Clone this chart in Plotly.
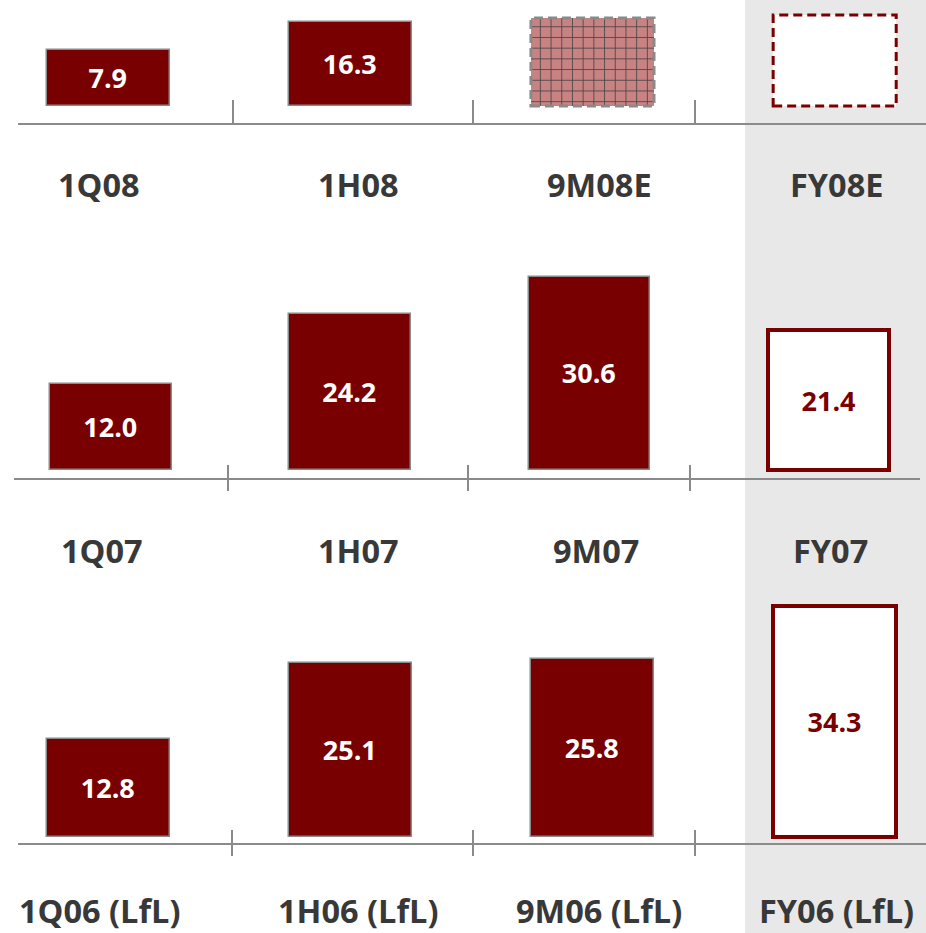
import plotly.graph_objects as go

W, H = 926, 933

# ---- data -------------------------------------------------------------
cats_2008 = ["1Q08", "1H08", "9M08E", "FY08E"]
vals_2008 = [7.9, 16.3, 17.5, 18.4]          # last two are estimates (no label)
text_2008 = ["7.9", "16.3", "", ""]

cats_2007 = ["1Q07", "1H07", "9M07", "FY07"]
vals_2007 = [12.0, 24.2, 30.6, 21.4]
text_2007 = ["12.0", "24.2", "30.6", "21.4"]

cats_2006 = ["1Q06 (LfL)", "1H06 (LfL)", "9M06 (LfL)", "FY06 (LfL)"]
vals_2006 = [12.8, 25.1, 25.8, 34.3]
text_2006 = ["12.8", "25.1", "25.8", "34.3"]

# ---- styling ----------------------------------------------------------
DARK_RED = "#780000"
OUTLINE_RED = "#7a0000"
GREY_LINE = "#8a8a8a"
LABEL_GREY = "#383838"
BAND = "#e8e8e8"
FONT = "Open Sans"
BAR_W = 0.508


def py(p):
    return 1 - p / H


def px(p):
    return p / W


# per-row layout: pixel domain, y range, bar floor, x range, baseline, dividers
rows = [
    dict(cats=cats_2008, vals=vals_2008, text=text_2008, dom=(124, 0),
         yr=[-14.3, 22.9], base=-8.9, xr=[-0.446, 3.377],
         line=(18, 926, 124), ticks=[233, 473, 695], tick_y=(100, 124),
         label_y=184, kinds=["solid", "solid", "hatched", "dashed"]),
    dict(cats=cats_2007, vals=vals_2007, text=text_2007, dom=(479, 230),
         yr=[-4.57, 38.81], base=-3.0, xr=[-0.464, 3.407],
         line=(14, 920, 479), ticks=[228, 468, 690], tick_y=(465, 491),
         label_y=550, kinds=["solid", "solid", "solid", "outline"]),
    dict(cats=cats_2006, vals=vals_2006, text=text_2006, dom=(844, 590),
         yr=[-4.09, 36.88], base=-3.0, xr=[-0.446, 3.377],
         line=(18, 926, 844), ticks=[232, 473, 695], tick_y=(830, 856),
         label_y=910, kinds=["solid", "solid", "solid", "outline"]),
]
label_xshift = [-9, 8, 7, 2]

fig = go.Figure()
shapes = [
    # shaded full-year column
    dict(type="rect", xref="paper", yref="paper", x0=px(745), x1=1, y0=0, y1=1,
         fillcolor=BAND, line=dict(width=0), layer="below"),
]
annotations = []

for r, row in enumerate(rows, start=1):
    xa = "x" if r == 1 else f"x{r}"
    ya = "y" if r == 1 else f"y{r}"
    kinds = row["kinds"]

    fill, lcol, lwid, pat, tcol = [], [], [], [], []
    for k in kinds:
        if k == "solid":
            fill.append(DARK_RED); lcol.append(GREY_LINE); lwid.append(1.5)
            pat.append(""); tcol.append("white")
        elif k == "outline":
            fill.append("white"); lcol.append(OUTLINE_RED); lwid.append(4)
            pat.append(""); tcol.append(OUTLINE_RED)
        elif k == "hatched":
            fill.append("#c88282"); lcol.append(GREY_LINE); lwid.append(0)
            pat.append("+"); tcol.append("white")
        else:  # dashed estimate
            fill.append("white"); lcol.append(OUTLINE_RED); lwid.append(0)
            pat.append(""); tcol.append(OUTLINE_RED)

    fig.add_trace(go.Bar(
        x=row["cats"], y=[v - row["base"] for v in row["vals"]], base=row["base"],
        width=BAR_W, xaxis=xa, yaxis=ya,
        marker=dict(color=fill, line=dict(color=lcol, width=lwid),
                    pattern=dict(shape=pat, fgcolor="#800000", bgcolor="#c88282",
                                 size=10.7, solidity=0.15, fgopacity=1)),
        text=row["text"], textposition="inside", insidetextanchor="middle",
        textangle=0,
        textfont=dict(family=FONT, size=27, color=tcol, weight=700),
        hoverinfo="skip", showlegend=False, cliponaxis=False,
    ))

    # dashed outlines for estimated periods
    for i, k in enumerate(kinds):
        if k in ("hatched", "dashed"):
            shapes.append(dict(
                type="rect", xref=xa, yref=ya,
                x0=i - BAR_W / 2, x1=i + BAR_W / 2, y0=row["base"], y1=row["vals"][i],
                line=dict(color=GREY_LINE if k == "hatched" else OUTLINE_RED,
                          width=3, dash="9px,5px"),
                fillcolor="rgba(0,0,0,0)", layer="above"))

    # baseline and separators
    x0, x1, yl = row["line"]
    shapes.append(dict(type="line", xref="paper", yref="paper",
                       x0=px(x0), x1=px(x1), y0=py(yl), y1=py(yl),
                       line=dict(color=GREY_LINE, width=2)))
    for t in row["ticks"]:
        shapes.append(dict(type="line", xref="paper", yref="paper",
                           x0=px(t), x1=px(t), y0=py(row["tick_y"][0]), y1=py(row["tick_y"][1]),
                           line=dict(color=GREY_LINE, width=2)))

    # period labels
    for i, c in enumerate(row["cats"]):
        annotations.append(dict(
            x=c, xref=xa, y=py(row["label_y"]), yref="paper",
            text=c, showarrow=False, xanchor="center", yanchor="middle",
            xshift=label_xshift[i], borderpad=0,
            font=dict(family=FONT, size=32.5, color=LABEL_GREY, weight=700)))

    b, t = row["dom"]
    axis_common = dict(visible=False, fixedrange=True)
    fig.layout[f"xaxis{'' if r == 1 else r}"] = dict(
        domain=[0, 1], range=row["xr"], anchor=ya, type="category", **axis_common)
    fig.layout[f"yaxis{'' if r == 1 else r}"] = dict(
        domain=[py(b), py(t)], range=row["yr"], anchor=xa, **axis_common)

fig.update_layout(
    width=W, height=H, margin=dict(l=0, r=0, t=0, b=0),
    paper_bgcolor="white", plot_bgcolor="rgba(0,0,0,0)",
    shapes=shapes, annotations=annotations, bargap=0,
)

fig.write_html("out.html")
